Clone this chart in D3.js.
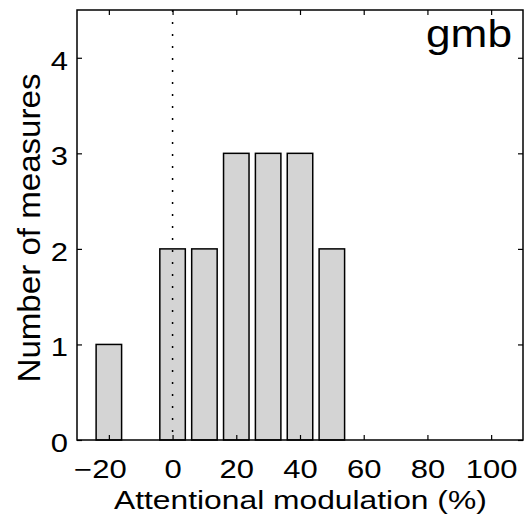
<!DOCTYPE html>
<html>
<head>
<meta charset="utf-8">
<script src="https://cdn.jsdelivr.net/npm/d3@7"></script>
<style>
  body { margin: 0; background: #fff; }
  text { font-family: "Liberation Sans", Arial, sans-serif; fill: #000; }
</style>
</head>
<body>
<svg id="chart" width="527" height="519"></svg>
<script>
// histogram bins (bin centres, %) and counts
var binCenters = [-20, 0, 10, 20, 30, 40, 50],
    counts = [1, 2, 2, 3, 3, 3, 2],
    xTicks = [-20, 0, 20, 40, 60, 80, 100],
    yTicks = [0, 1, 2, 3, 4];

var margin = {top: 10, right: 4, bottom: 79, left: 77},
    width = 527 - margin.left - margin.right,
    height = 519 - margin.top - margin.bottom;

var svg = d3.select('#chart'),
    g = svg.append('g').attr('transform', 'translate(' + margin.left + ',' + margin.top + ')');

var x = d3.scaleLinear().domain([-30, 110]).range([0, width]),
    y = d3.scaleLinear().domain([0, 4.5]).range([height, 0]),
    barW = 8,
    sx = 1.24;

// stretch a text horizontally so it spans x0..x1 on the given baseline
function fit(sel, x0, x1, base) {
  var b = sel.node().getBBox(),
      s = (x1 - x0) / b.width;
  sel.attr('transform', 'translate(' + (x0 - b.x * s) + ',' + base + ') scale(' + s + ',1)');
}

// bars
g.selectAll('rect.bar')
    .data(binCenters)
  .enter().append('rect')
    .attr('class', 'bar')
    .attr('x', function(d) { return x(d - barW / 2); })
    .attr('width', function(d) { return x(d + barW / 2) - x(d - barW / 2); })
    .attr('y', function(d, i) { return y(counts[i]); })
    .attr('height', function(d, i) { return y(0) - y(counts[i]); })
    .attr('fill', '#d4d4d4')
    .attr('stroke', '#000')
    .attr('stroke-width', 1.5);

// dotted zero line
g.append('line')
    .attr('x1', x(0)).attr('x2', x(0))
    .attr('y1', 0).attr('y2', height)
    .attr('stroke', '#000')
    .attr('stroke-width', 1.5)
    .attr('stroke-dasharray', '2,10');

// box
g.append('rect')
    .attr('width', width).attr('height', height)
    .attr('fill', 'none')
    .attr('stroke', '#000')
    .attr('stroke-width', 1.5);

// axes, ticks pointing inward
var fmt = d3.format('d');
var xAxis = g.append('g').attr('transform', 'translate(0,' + height + ')')
    .call(d3.axisBottom(x).tickValues(xTicks).tickSizeInner(-5).tickSizeOuter(0).tickFormat(fmt));
var xTop = g.append('g')
    .call(d3.axisTop(x).tickValues(xTicks).tickSizeInner(-5).tickSizeOuter(0).tickFormat(''));
var yAxis = g.append('g')
    .call(d3.axisLeft(y).tickValues(yTicks).tickSizeInner(-5).tickSizeOuter(0).tickFormat(fmt));
var yRight = g.append('g').attr('transform', 'translate(' + width + ',0)')
    .call(d3.axisRight(y).tickValues(yTicks).tickSizeInner(-5).tickSizeOuter(0).tickFormat(''));

g.selectAll('.domain').remove();
g.selectAll('.tick line').attr('stroke', '#000').attr('stroke-width', 1.2);

// minus sign hangs to the left of the centred digits
xAxis.selectAll('text')
    .style('font-size', '25px')
    .attr('y', 0)
    .attr('dy', 0)
    .attr('transform', function(d) {
      return 'translate(' + (d < 0 ? -9 : 0) + ',38) scale(' + sx + ',1)';
    });
yAxis.selectAll('text')
    .style('font-size', '25px')
    .attr('x', 0)
    .attr('dy', '0.38em')
    .attr('transform', 'translate(-9,2) scale(' + sx + ',1)');

// labels
var xl = svg.append('text')
    .style('font-size', '26px')
    .text('Attentional modulation (%)');
fit(xl, 114, 487, 509);

svg.append('text')
    .attr('transform', 'translate(40,228) rotate(-90)')
    .attr('text-anchor', 'middle')
    .attr('textLength', 309)
    .attr('lengthAdjust', 'spacingAndGlyphs')
    .style('font-size', '32px')
    .text('Number of measures');

var tag = svg.append('text')
    .style('font-size', '38px')
    .text('gmb');
fit(tag, 426, 512, 47);
</script>
</body>
</html>
